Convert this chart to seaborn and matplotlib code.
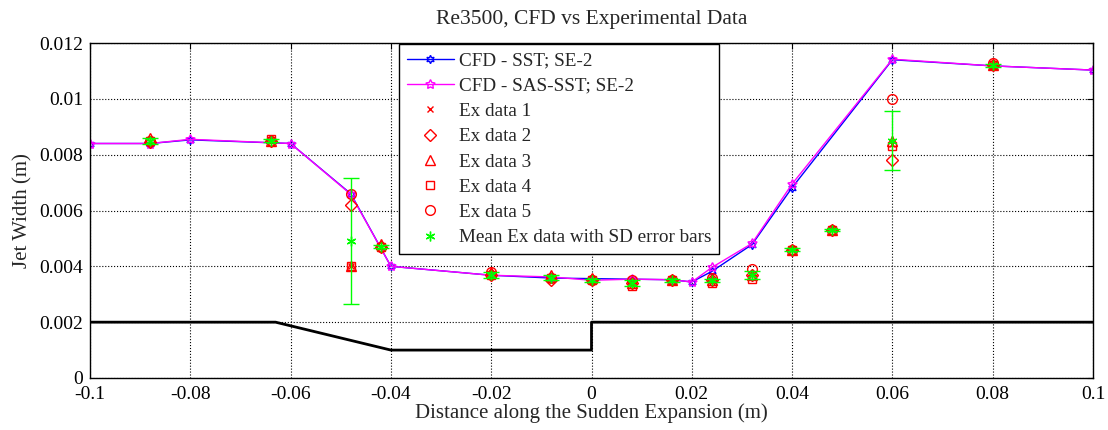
import numpy as np
import pandas as pd
import matplotlib
matplotlib.use("Agg")
import matplotlib.pyplot as plt
import seaborn as sns

# ---------------- data ----------------
cfd_x = [-0.1, -0.088, -0.08, -0.06, -0.048, -0.04, -0.02, -0.008, 0.0, 0.008,
         0.016, 0.02, 0.024, 0.032, 0.04, 0.06, 0.08, 0.1]
sst_y = [0.0084, 0.0084, 0.00853, 0.0084, 0.0066, 0.0040, 0.00368, 0.00358, 0.00356, 0.00354,
         0.00352, 0.00344, 0.00382, 0.00478, 0.00682, 0.01140, 0.01118, 0.01103]
sas_y = [0.0084, 0.0084, 0.00855, 0.0084, 0.00658, 0.0040, 0.00368, 0.00362, 0.00350, 0.00354,
         0.00352, 0.00344, 0.00396, 0.00482, 0.00695, 0.01142, 0.01118, 0.01103]

ex_x = [-0.088, -0.064, -0.048, -0.042, -0.02, -0.008, 0.0, 0.008, 0.016, 0.024,
        0.032, 0.04, 0.048, 0.06, 0.08]
ex1 = [0.0085, 0.0085, 0.0040, 0.0047, 0.0037, 0.0036, 0.0035, 0.0034, 0.0035, 0.0035,
       0.0037, 0.0046, 0.0053, 0.0084, 0.0112]
ex2 = [0.00845, 0.0085, 0.0062, 0.0047, 0.0037, 0.0035, 0.0035, 0.0034, 0.0035, 0.0035,
       0.0037, 0.0046, 0.0053, 0.0078, 0.0112]
ex3 = [0.0086, 0.0085, 0.0040, 0.0048, 0.0038, 0.0037, 0.0036, 0.0034, 0.0035, 0.0035,
       0.0037, 0.0046, 0.0053, 0.0085, 0.0112]
ex4 = [0.0085, 0.00855, 0.0040, 0.0047, 0.0037, 0.0036, 0.0035, 0.0033, 0.0035, 0.0034,
       0.00355, 0.0046, 0.0053, 0.0083, 0.0112]
ex5 = [0.0085, 0.0085, 0.0066, 0.0047, 0.0038, 0.0036, 0.0035, 0.0035, 0.0035, 0.0036,
       0.0039, 0.0046, 0.0053, 0.0100, 0.0113]
ex_mean = [0.0085, 0.0085, 0.0049, 0.0047, 0.0037, 0.0036, 0.0035, 0.0034, 0.0035, 0.0035,
           0.0037, 0.0046, 0.0053, 0.0085, 0.0112]
ex_sd = [0.0001, 0.00005, 0.00225, 0.00005, 0.0001, 0.0001, 0.00005, 0.0001, 0.00005, 0.00005,
         0.00015, 0.00005, 0.00005, 0.00106, 0.00005]

geom_x = [-0.1, -0.063, -0.04, 0.0, 0.0, 0.1]
geom_y = [0.002, 0.002, 0.001, 0.001, 0.002, 0.002]

x_ticks = [-0.1, -0.08, -0.06, -0.04, -0.02, 0, 0.02, 0.04, 0.06, 0.08, 0.1]
x_labels = ["-0.1", "-0.08", "-0.06", "-0.04", "-0.02", "0", "0.02", "0.04", "0.06", "0.08", "0.1"]
y_ticks = [0, 0.002, 0.004, 0.006, 0.008, 0.01, 0.012]
y_labels = ["0", "0.002", "0.004", "0.006", "0.008", "0.01", "0.012"]

# ---------------- style ----------------
sns.set_style("white")
plt.rcParams['font.family'] = ['Liberation Serif', 'DejaVu Serif']

fig = plt.figure(figsize=(11.08, 4.30), dpi=100)
ax = fig.add_axes([90 / 1108, 52 / 430, 1003 / 1108, 335 / 430])

df_geom = pd.DataFrame({"x": geom_x, "y": geom_y})
sns.lineplot(data=df_geom, x="x", y="y", sort=False, estimator=None, ax=ax,
             color="black", linewidth=2.0, label="_nolegend_")

df_cfd = pd.DataFrame({"x": cfd_x, "sst": sst_y, "sas": sas_y})
sns.lineplot(data=df_cfd, x="x", y="sst", sort=False, estimator=None, ax=ax,
             color="blue", linewidth=1.0, marker=(6, 1, 0), markersize=6,
             markerfacecolor="none", markeredgecolor="blue", markeredgewidth=1.0,
             label="CFD - SST; SE-2")
sns.lineplot(data=df_cfd, x="x", y="sas", sort=False, estimator=None, ax=ax,
             color="magenta", linewidth=1.0, marker=(5, 1, 0), markersize=7,
             markerfacecolor="none", markeredgecolor="magenta", markeredgewidth=1.0,
             label="CFD - SAS-SST; SE-2")

ax.plot(ex_x, ex1, linestyle="none", marker="x", markersize=4, color="red",
        markeredgewidth=1.0, label="Ex data 1")
ax.plot(ex_x, ex2, linestyle="none", marker="D", markersize=6, markerfacecolor="none",
        markeredgecolor="red", markeredgewidth=1.0, label="Ex data 2")
ax.plot(ex_x, ex3, linestyle="none", marker="^", markersize=7, markerfacecolor="none",
        markeredgecolor="red", markeredgewidth=1.0, label="Ex data 3")
ax.plot(ex_x, ex4, linestyle="none", marker="s", markersize=6, markerfacecolor="none",
        markeredgecolor="red", markeredgewidth=1.0, label="Ex data 4")
ax.plot(ex_x, ex5, linestyle="none", marker="o", markersize=7, markerfacecolor="none",
        markeredgecolor="red", markeredgewidth=1.0, label="Ex data 5")
eb = ax.errorbar(ex_x, ex_mean, yerr=ex_sd, linestyle="none", marker=(6, 2, 0), markersize=7,
                 color="#00ff00", ecolor="#00ff00", elinewidth=1.0, capsize=6, capthick=1.0,
                 markeredgewidth=1.0, label="Mean Ex data with SD error bars")

ax.set_xlim(-0.1, 0.1)
ax.set_ylim(0, 0.012)
ax.set_xticks(x_ticks)
ax.set_xticklabels(x_labels)
ax.set_yticks(y_ticks)
ax.set_yticklabels(y_labels)
ax.tick_params(axis="both", which="both", direction="in", top=True, right=True,
               labelsize=14, length=4, width=0.8, colors="black")
ax.tick_params(axis="x", pad=6)
ax.tick_params(axis="y", pad=5)
ax.grid(True, color="black", linestyle=":", linewidth=0.8)
for s in ax.spines.values():
    s.set_color("black")
    s.set_linewidth(1.0)
    s.set_visible(True)

ax.set_title("Re3500, CFD vs Experimental Data", fontsize=15.5, pad=14)
ax.set_xlabel("Distance along the Sudden Expansion (m)", fontsize=15, labelpad=0)
ax.set_ylabel("Jet Width (m)", fontsize=15, labelpad=5)

handles, labels = ax.get_legend_handles_labels()
handles = [h[0] if h is eb else h for h in handles]
leg = ax.legend(handles, labels, loc="upper left", bbox_to_anchor=(0.308, 0.996), fontsize=13.8,
                frameon=True, fancybox=False, edgecolor="black", framealpha=1,
                borderpad=0.4, labelspacing=0.41, handlelength=2.45, handletextpad=0.28,
                borderaxespad=0)
leg.get_frame().set_linewidth(1.0)

fig.savefig("out.png", dpi=100)
